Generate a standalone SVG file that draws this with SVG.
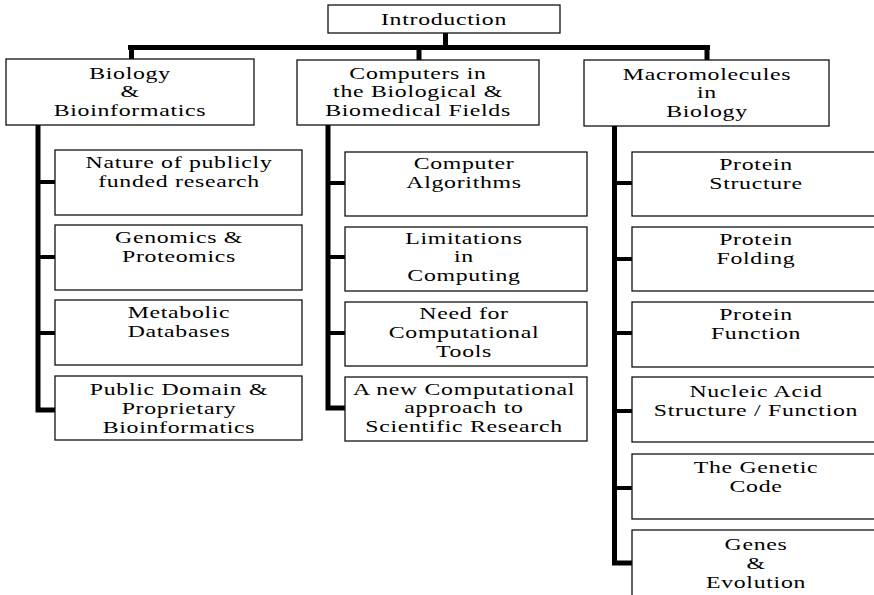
<svg xmlns="http://www.w3.org/2000/svg" width="874" height="595" viewBox="0 0 874 595">
  <style>
    .box { fill: #fff; stroke: #111; stroke-width: 1.3; }
    .t { font-family: "Liberation Serif", "Times New Roman", serif; font-size: 17px; fill: #000; text-anchor: middle; letter-spacing: 0.5px; }
    .bus { fill: none; stroke: #000; stroke-width: 5; stroke-linejoin: miter; }
    .branch { fill: none; stroke: #000; stroke-width: 4; }
  </style>
  <rect width="874" height="595" fill="#fff"/>

  <!-- connectors -->
  <g id="connectors">
    <path class="bus" d="M445.5 33 V48 M128 47.5 H710 M131.5 45 V59 M419 45 V60 M707 45 V60"/>
    <path class="bus" d="M38 125 V410 H55"/>
    <path class="branch" d="M38 182 H55 M38 257 H55 M38 333 H55"/>
    <path class="bus" d="M328 125 V408 H345"/>
    <path class="branch" d="M328 183 H345 M328 257 H345 M328 333 H345"/>
    <path class="bus" d="M614.5 126 V563 H632"/>
    <path class="branch" d="M614.5 183 H632 M614.5 259 H632 M614.5 333 H632 M614.5 411 H632 M614.5 488 H632"/>
  </g>

  <!-- root -->
  <g id="introduction">
    <rect class="box" x="328" y="5" width="232" height="28"/>
    <text class="t" transform="translate(444 0) scale(1.4 1)"><tspan x="0" y="25">Introduction</tspan></text>
  </g>

  <!-- first level -->
  <g id="biology">
    <rect class="box" x="6" y="59" width="248" height="66"/>
    <text class="t" transform="translate(130 0) scale(1.4 1)"><tspan x="0" y="79">Biology</tspan><tspan x="0" y="97">&amp;</tspan><tspan x="0" y="116">Bioinformatics</tspan></text>
  </g>
  <g id="computers">
    <rect class="box" x="297" y="60" width="242" height="65"/>
    <text class="t" transform="translate(418 0) scale(1.4 1)"><tspan x="0" y="79">Computers in</tspan><tspan x="0" y="97">the Biological &amp;</tspan><tspan x="0" y="116">Biomedical Fields</tspan></text>
  </g>
  <g id="macromolecules">
    <rect class="box" x="584" y="60" width="245" height="66"/>
    <text class="t" transform="translate(707 0) scale(1.4 1)"><tspan x="0" y="80">Macromolecules</tspan><tspan x="0" y="98">in</tspan><tspan x="0" y="117">Biology</tspan></text>
  </g>

  <!-- Biology & Bioinformatics topics -->
  <g id="publicly-funded">
    <rect class="box" x="55" y="150" width="247" height="65"/>
    <text class="t" transform="translate(179 0) scale(1.4 1)"><tspan x="0" y="168">Nature of publicly</tspan><tspan x="0" y="187">funded research</tspan></text>
  </g>
  <g id="genomics">
    <rect class="box" x="55" y="225" width="247" height="65"/>
    <text class="t" transform="translate(179 0) scale(1.4 1)"><tspan x="0" y="243">Genomics &amp;</tspan><tspan x="0" y="262">Proteomics</tspan></text>
  </g>
  <g id="metabolic">
    <rect class="box" x="55" y="300" width="247" height="65"/>
    <text class="t" transform="translate(179 0) scale(1.4 1)"><tspan x="0" y="318">Metabolic</tspan><tspan x="0" y="337">Databases</tspan></text>
  </g>
  <g id="public-domain">
    <rect class="box" x="55" y="376" width="247" height="64"/>
    <text class="t" transform="translate(179 0) scale(1.4 1)"><tspan x="0" y="395">Public Domain &amp;</tspan><tspan x="0" y="414">Proprietary</tspan><tspan x="0" y="433">Bioinformatics</tspan></text>
  </g>

  <!-- Computers topics -->
  <g id="algorithms">
    <rect class="box" x="345" y="152" width="242" height="64"/>
    <text class="t" transform="translate(464 0) scale(1.4 1)"><tspan x="0" y="169">Computer</tspan><tspan x="0" y="188">Algorithms</tspan></text>
  </g>
  <g id="limitations">
    <rect class="box" x="345" y="227" width="242" height="64"/>
    <text class="t" transform="translate(464 0) scale(1.4 1)"><tspan x="0" y="244">Limitations</tspan><tspan x="0" y="262">in</tspan><tspan x="0" y="281">Computing</tspan></text>
  </g>
  <g id="tools">
    <rect class="box" x="345" y="302" width="242" height="64"/>
    <text class="t" transform="translate(464 0) scale(1.4 1)"><tspan x="0" y="319">Need for</tspan><tspan x="0" y="338">Computational</tspan><tspan x="0" y="357">Tools</tspan></text>
  </g>
  <g id="new-approach">
    <rect class="box" x="345" y="377" width="242" height="64"/>
    <text class="t" transform="translate(464 0) scale(1.4 1)"><tspan x="0" y="395">A new Computational</tspan><tspan x="0" y="413">approach to</tspan><tspan x="0" y="432">Scientific Research</tspan></text>
  </g>

  <!-- Macromolecules topics -->
  <g id="protein-structure">
    <rect class="box" x="632" y="152" width="250" height="64"/>
    <text class="t" transform="translate(756 0) scale(1.4 1)"><tspan x="0" y="170">Protein</tspan><tspan x="0" y="189">Structure</tspan></text>
  </g>
  <g id="protein-folding">
    <rect class="box" x="632" y="227" width="250" height="64"/>
    <text class="t" transform="translate(756 0) scale(1.4 1)"><tspan x="0" y="245">Protein</tspan><tspan x="0" y="264">Folding</tspan></text>
  </g>
  <g id="protein-function">
    <rect class="box" x="632" y="302" width="250" height="65"/>
    <text class="t" transform="translate(756 0) scale(1.4 1)"><tspan x="0" y="320">Protein</tspan><tspan x="0" y="339">Function</tspan></text>
  </g>
  <g id="nucleic-acid">
    <rect class="box" x="632" y="377" width="250" height="65"/>
    <text class="t" transform="translate(756 0) scale(1.4 1)"><tspan x="0" y="397">Nucleic Acid</tspan><tspan x="0" y="416">Structure / Function</tspan></text>
  </g>
  <g id="genetic-code">
    <rect class="box" x="632" y="454" width="250" height="65"/>
    <text class="t" transform="translate(756 0) scale(1.4 1)"><tspan x="0" y="473">The Genetic</tspan><tspan x="0" y="492">Code</tspan></text>
  </g>
  <g id="genes-evolution">
    <rect class="box" x="632" y="530" width="250" height="80"/>
    <text class="t" transform="translate(756 0) scale(1.4 1)"><tspan x="0" y="550">Genes</tspan><tspan x="0" y="569">&amp;</tspan><tspan x="0" y="588">Evolution</tspan></text>
  </g>
</svg>
